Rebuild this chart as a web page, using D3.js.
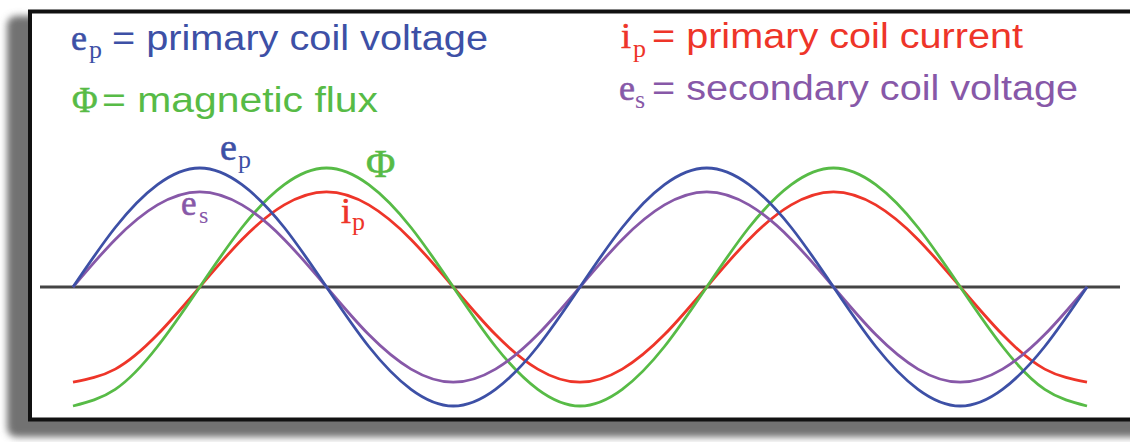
<!DOCTYPE html>
<html>
<head>
<meta charset="utf-8">
<script src="https://cdn.jsdelivr.net/npm/d3@7"></script>
<style>
  body { margin: 0; background: #fff; }
  svg { display: block; }
</style>
</head>
<body>
<div id="chart"></div>
<script>
// phase angle (degrees) of each sample, two full cycles
const phaseDeg = [0, 30, 60, 90, 120, 150, 180, 210, 240, 270, 300, 330, 360,
                  390, 420, 450, 480, 510, 540, 570, 600, 630, 660, 690, 720];
// values, in units of the primary voltage peak
const primaryVoltage = [0, 0.5, 0.86, 1.0, 0.86, 0.5, 0, -0.5, -0.86, -1.0, -0.86, -0.5, 0,
                        0.5, 0.86, 1.0, 0.86, 0.5, 0, -0.5, -0.86, -1.0, -0.86, -0.5, 0];
const secondaryVoltage = [0, 0.4, 0.69, 0.8, 0.69, 0.4, 0, -0.4, -0.69, -0.8, -0.69, -0.4, 0,
                          0.4, 0.69, 0.8, 0.69, 0.4, 0, -0.4, -0.69, -0.8, -0.69, -0.4, 0];
const magneticFlux = [-1.0, -0.86, -0.5, 0, 0.5, 0.86, 1.0, 0.86, 0.5, 0, -0.5, -0.86, -1.0,
                      -0.86, -0.5, 0, 0.5, 0.86, 1.0, 0.86, 0.5, 0, -0.5, -0.86, -1.0];
const primaryCurrent = [-0.8, -0.69, -0.4, 0, 0.4, 0.69, 0.8, 0.69, 0.4, 0, -0.4, -0.69, -0.8,
                        -0.69, -0.4, 0, 0.4, 0.69, 0.8, 0.69, 0.4, 0, -0.4, -0.69, -0.8];

// legend
const legendSymbols = ["e", "\u03A6", "i", "e"];
const legendSubs = ["p", "", "p", "s"];
const legendTexts = ["= primary coil voltage", "= magnetic flux", "= primary coil current", "= secondary coil voltage"];

const width = 1130, height = 442;
const serif = "'Liberation Serif', 'Times New Roman', serif";
const sans = "'Liberation Sans', Arial, Helvetica, sans-serif";

const colors = {
    ep: '#3d50a6',
    phi: '#57bb46',
    ip: '#ee3529',
    es: '#8758a8'
};

const svg = d3.select("#chart").append("svg")
    .attr("width", width)
    .attr("height", height);

//Shadow behind the frame
const defs = svg.append("defs");
defs.append("filter")
    .attr("id", "shadowBlur")
    .attr("x", "-10%").attr("y", "-10%")
    .attr("width", "120%").attr("height", "120%")
    .append("feGaussianBlur")
    .attr("stdDeviation", 3.5);

svg.append("rect")
    .attr("x", 7)
    .attr("y", 16)
    .attr("width", 1200)
    .attr("height", 421)
    .attr("rx", 9)
    .attr("fill", "#727272")
    .attr("filter", "url(#shadowBlur)");

//Frame
svg.append("rect")
    .attr("x", 30)
    .attr("y", 11.5)
    .attr("width", 1200)
    .attr("height", 408)
    .attr("fill", "white")
    .attr("stroke", "#111")
    .attr("stroke-width", 4);

//Scales
const xScale = d3.scaleLinear()
    .domain([0, 720])
    .range([73, 1087]);
const yScale = d3.scaleLinear()
    .domain([-1, 1])
    .range([406, 168]);

//Zero line
svg.append("line")
    .attr("x1", 40)
    .attr("x2", 1120)
    .attr("y1", yScale(0))
    .attr("y2", yScale(0))
    .attr("stroke", "#444")
    .attr("stroke-width", 3);

const line = d3.line()
    .x(d => xScale(d.x))
    .y(d => yScale(d.y))
    .curve(d3.curveNatural);

const series = [
    {values: primaryCurrent, color: colors.ip},
    {values: magneticFlux, color: colors.phi},
    {values: secondaryVoltage, color: colors.es},
    {values: primaryVoltage, color: colors.ep}
];

series.forEach(s => {
    let pts = phaseDeg.map((p, i) => ({x: p, y: s.values[i]}));
    svg.append("path")
        .datum(pts)
        .attr("d", line)
        .attr("fill", "none")
        .attr("stroke", s.color)
        .attr("stroke-width", 2.8)
        .attr("stroke-linejoin", "round");
});

//Curve labels
const curveLabels = [
    {sym: "e", sub: "p", color: colors.ep, x: 220, y: 160, size: 38, subX: 238, subY: 168, subSize: 26},
    {sym: "\u03A6", sub: "", color: colors.phi, x: 366, y: 177, size: 40},
    {sym: "e", sub: "s", color: colors.es, x: 181, y: 215, size: 35, subX: 199, subY: 223, subSize: 24},
    {sym: "i", sub: "p", color: colors.ip, x: 341, y: 223, size: 36, subX: 352, subY: 230, subSize: 26}
];

function drawSymbol(g, d) {
    g.append("text")
        .attr("x", d.x).attr("y", d.y)
        .attr("font-family", serif)
        .attr("font-size", d.size)
        .attr("fill", d.color)
        .attr("stroke", d.color)
        .attr("stroke-width", 0.6)
        .text(d.sym);
    if (d.sub) {
        g.append("text")
            .attr("x", d.subX).attr("y", d.subY)
            .attr("font-family", serif)
            .attr("font-size", d.subSize)
            .attr("fill", d.color)
            .text(d.sub);
    }
}

curveLabels.forEach(d => drawSymbol(svg, d));

//Legend
const legendLayout = [
    {x: 71, y: 50, subX: 89, subY: 58, textX: 112, textEnd: 488, color: colors.ep, size: 36},
    {x: 72, y: 112, subX: 0, subY: 0, textX: 102, textEnd: 378, color: colors.phi, size: 35},
    {x: 621, y: 48, subX: 633, subY: 57, textX: 652, textEnd: 1023, color: colors.ip, size: 36},
    {x: 619, y: 100, subX: 635, subY: 108, textX: 652, textEnd: 1078, color: colors.es, size: 36}
];

const legend = svg.append("g").attr("class", "legend");
legendTexts.forEach((txt, i) => {
    let l = legendLayout[i];
    drawSymbol(legend, {
        sym: legendSymbols[i], sub: legendSubs[i], color: l.color,
        x: l.x, y: l.y, size: l.size, subX: l.subX, subY: l.subY, subSize: 26
    });
    legend.append("text")
        .attr("x", l.textX)
        .attr("y", l.y)
        .attr("font-family", sans)
        .attr("font-size", 35)
        .attr("fill", l.color)
        .attr("textLength", l.textEnd - l.textX)
        .attr("lengthAdjust", "spacingAndGlyphs")
        .text(txt);
});
</script>
</body>
</html>
